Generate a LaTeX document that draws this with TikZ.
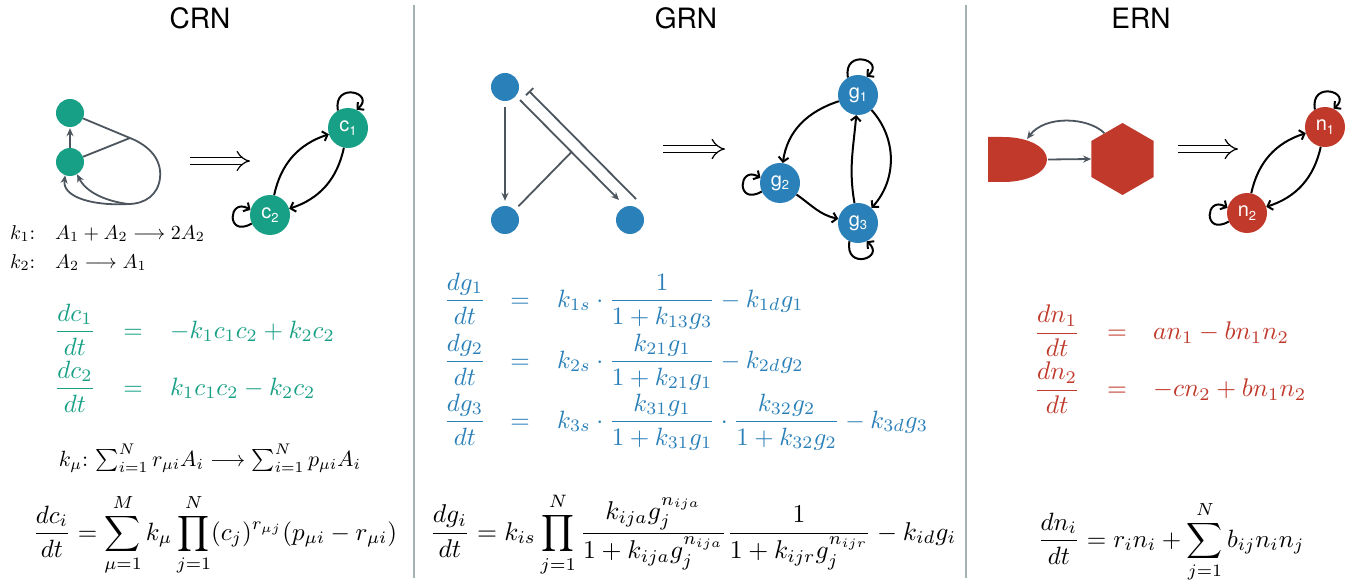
\documentclass[tikz,border=0pt]{standalone}
\usepackage{amsmath}
\usepackage{graphicx}
\usepackage{fontspec}
\newfontfamily\heros{TeX Gyre Heros}
\usetikzlibrary{arrows.meta,shapes.geometric,calc}
\definecolor{crn}{HTML}{17A085}
\definecolor{grn}{HTML}{2A80B9}
\definecolor{ern}{HTML}{C0392B}
\definecolor{edgec}{HTML}{4D565E}
\definecolor{divc}{HTML}{A3B1B1}
\newcommand{\lab}[2]{#1\raisebox{-0.35ex}{\fontsize{13}{13}\selectfont #2}}
\begin{document}
\begin{tikzpicture}[x=1pt,y=-1pt,
  small/.style={circle, fill=#1, minimum size=28pt, inner sep=0pt},
  big/.style={circle, fill=#1, minimum size=40pt, inner sep=0pt, text=white, font=\heros\fontsize{20}{20}\selectfont},
  gline/.style={draw=edgec, line width=1.8pt},
  garr/.style={gline, -{Stealth[length=8pt,width=7pt]}},
  gbar/.style={gline, -{Bar[width=10pt]}},
  barr/.style={draw=black, line width=2pt, -{Straight Barb[length=4.5pt,width=10pt]}},
  ttl/.style={font=\heros\fontsize{28}{28}\selectfont},
  eq/.style={inner sep=0pt, anchor=base},
  eqw/.style={inner sep=0pt, anchor=base west},
  dbl/.style={double, double distance=6pt, line width=1.2pt, -{Implies}},
]
\useasboundingbox (0,0) rectangle (1354,580);
\fill[white] (0,0) rectangle (1354,580);

% dividers
\draw[divc, line width=1.5pt] (414,5) -- (414,578);
\draw[divc, line width=1.5pt] (966,5) -- (966,578);

% titles
\node[ttl] (tcrn) at (200,18) {CRN};
\node[ttl] (tgrn) at (686,18) {GRN};
\node[ttl] (tern) at (1141,18) {ERN};

%%%%%%%%%%%% CRN graph
\node[small=crn] (A1) at (70,113) {};
\node[small=crn] (A2) at (70,162) {};
\draw[garr, shorten >=1pt] (A2) -- (A1);
\coordinate (J) at (130,138);
\coordinate (B) at (128,204);
\draw[gline] (A1) -- (J);
\draw[gline] (A2) -- (J);
\draw[gline] (J) .. controls (150,146) and (162,160) .. (160,178) .. controls (158,195) and (145,204) .. (B);
\draw[garr] (B) .. controls (95,206) and (62,198) .. (A2.250);
\draw[garr] (B) .. controls (105,201) and (86,192) .. (A2.300);

\coordinate (d1s) at (190,161);
\coordinate (d1e) at (250,161);
\draw[dbl] (d1s) -- (d1e);

\node[big=crn] (c1) at (348,128) {\lab{c}{1}};
\node[big=crn] (c2) at (270,215) {\lab{c}{2}};
\draw[barr] (c2) to[bend left=30] (c1);
\draw[barr] (c1) to[bend left=30] (c2);
\draw[barr] (c1.120) .. controls +(100:30pt) and +(40:26pt) .. (c1.65);
\draw[barr] (c2.205) .. controls +(210:30pt) and +(150:26pt) .. (c2.165);

\node[eqw] (k1) at (10,239) {\scalebox{2}{$k_1{:}$}};
\node[eqw] (r1) at (55,239) {\scalebox{2}{$A_1+A_2\longrightarrow 2A_2$}};
\node[eqw] (k2) at (10,268) {\scalebox{2}{$k_2{:}$}};
\node[eqw] (r2) at (55,268) {\scalebox{2}{$A_2\longrightarrow A_1$}};

\node[eq, text=crn] (cf1) at (75,338) {\scalebox{2.5}{$\displaystyle\frac{dc_1}{dt}$}};
\node[eq, text=crn] (ce1) at (133,338) {\scalebox{2.5}{$=$}};
\node[eqw, text=crn] (cr1) at (170,338) {\scalebox{2.5}{$-k_1c_1c_2+k_2c_2$}};
\node[eq, text=crn] (cf2) at (75,395) {\scalebox{2.5}{$\displaystyle\frac{dc_2}{dt}$}};
\node[eq, text=crn] (ce2) at (133,395) {\scalebox{2.5}{$=$}};
\node[eqw, text=crn] (cr2) at (170,395) {\scalebox{2.5}{$k_1c_1c_2-k_2c_2$}};

\node[eq] (kmu) at (210,466) {\scalebox{2.2}{$k_\mu{:}\,\sum_{i=1}^N r_{\mu i}A_i\longrightarrow\sum_{i=1}^N p_{\mu i}A_i$}};
\node[eq] (cgen) at (215,540) {\scalebox{2.5}{$\displaystyle\frac{dc_i}{dt}=\sum_{\mu=1}^{M}k_\mu\prod_{j=1}^{N}(c_j)^{r_{\mu j}}(p_{\mu i}-r_{\mu i})$}};

%%%%%%%%%%%% GRN graph
\node[small=grn] (G1) at (505,87) {};
\node[small=grn] (G2) at (505,220) {};
\node[small=grn] (G3) at (630,220) {};
\draw[garr, shorten <=6pt, shorten >=5pt] (G1) -- (G2);
\coordinate (a1) at (520,100);
\coordinate (a2) at (619,200);
\coordinate (b1) at (529,91);
\coordinate (b2) at (636,199);
\draw[garr] (a1) -- (a2);
\draw[gbar] (b2) -- (b1);
\coordinate (jg) at ($(a1)!0.52!(a2)$);
\draw[gline, shorten <=5pt] (G2) -- (jg);

\coordinate (d2s) at (663,149);
\coordinate (d2e) at (725,149);
\draw[dbl] (d2s) -- (d2e);

\node[big=grn] (g1) at (858,95) {\lab{g}{1}};
\node[big=grn] (g2) at (780,183) {\lab{g}{2}};
\node[big=grn] (g3) at (858,223) {\lab{g}{3}};
\draw[barr] (g1) to[out=198,in=82] (g2);
\draw[barr] (g2) to[out=-35,in=168] (g3);
\draw[barr] (g1) to[out=-48,in=48] (g3);
\draw[barr] (g3) to[out=100,in=-95] (g1);
\draw[barr] (g1.120) .. controls +(100:30pt) and +(40:26pt) .. (g1.65);
\draw[barr] (g3.245) .. controls +(260:30pt) and +(320:26pt) .. (g3.295);
\draw[barr] (g2.205) .. controls +(210:30pt) and +(150:26pt) .. (g2.165);

\node[eq, text=grn] (gf1) at (465,307) {\scalebox{2.5}{$\displaystyle\frac{dg_1}{dt}$}};
\node[eq, text=grn] (ge1) at (520,307) {\scalebox{2.5}{$=$}};
\node[eqw, text=grn] (gr1) at (557,307) {\scalebox{2.5}{$k_{1s}\cdot\dfrac{1}{1+k_{13}g_3}-k_{1d}g_1$}};
\node[eq, text=grn] (gf2) at (465,368) {\scalebox{2.5}{$\displaystyle\frac{dg_2}{dt}$}};
\node[eq, text=grn] (ge2) at (520,368) {\scalebox{2.5}{$=$}};
\node[eqw, text=grn] (gr2) at (557,368) {\scalebox{2.5}{$k_{2s}\cdot\dfrac{k_{21}g_1}{1+k_{21}g_1}-k_{2d}g_2$}};
\node[eq, text=grn] (gf3) at (465,428) {\scalebox{2.5}{$\displaystyle\frac{dg_3}{dt}$}};
\node[eq, text=grn] (ge3) at (520,428) {\scalebox{2.5}{$=$}};
\node[eqw, text=grn] (gr3) at (557,428) {\scalebox{2.5}{$k_{3s}\cdot\dfrac{k_{31}g_1}{1+k_{31}g_1}\cdot\dfrac{k_{32}g_2}{1+k_{32}g_2}-k_{3d}g_3$}};

\node[eq] (ggen) at (693,540) {\scalebox{2.57}{$\displaystyle\frac{dg_i}{dt}=k_{is}\prod_{j=1}^{N}\frac{k_{ija}g_j^{n_{ija}}}{1+k_{ija}g_j^{n_{ija}}}\frac{1}{1+k_{ijr}g_j^{n_{ijr}}}-k_{id}g_i$}};

%%%%%%%%%%%% ERN graph
\fill[ern] (988,137) -- (1003,137) .. controls (1030,137) and (1047,148) .. (1047,159.5) .. controls (1047,171) and (1030,182) .. (1003,182) -- (988,182) -- cycle;
\coordinate (bultip) at (1048,159.5);
\coordinate (bultop) at (1027,139);
\node[regular polygon, regular polygon sides=6, shape border rotate=30, minimum size=72pt, inner sep=0pt, fill=ern] (hex) at (1122.5,159) {};
\draw[garr] (bultip) -- (hex.west);
\draw[garr] (hex.125) .. controls (1088,117) and (1045,115) .. (bultop);

\coordinate (d3s) at (1178,149);
\coordinate (d3e) at (1238,149);
\draw[dbl] (d3s) -- (d3e);

\node[big=ern] (n1) at (1325,127) {\lab{n}{1}};
\node[big=ern] (n2) at (1247,213) {\lab{n}{2}};
\draw[barr] (n2) to[bend left=30] (n1);
\draw[barr] (n1) to[bend left=30] (n2);
\draw[barr] (n1.120) .. controls +(100:30pt) and +(40:26pt) .. (n1.65);
\draw[barr] (n2.205) .. controls +(210:30pt) and +(150:26pt) .. (n2.165);

\node[eq, text=ern] (nf1) at (1057,339.5) {\scalebox{2.55}{$\displaystyle\frac{dn_1}{dt}$}};
\node[eq, text=ern] (ne1) at (1117,339.5) {\scalebox{2.55}{$=$}};
\node[eqw, text=ern] (nr1) at (1153,339.5) {\scalebox{2.55}{$an_1-bn_1n_2$}};
\node[eq, text=ern] (nf2) at (1057,396.5) {\scalebox{2.55}{$\displaystyle\frac{dn_2}{dt}$}};
\node[eq, text=ern] (ne2) at (1117,396.5) {\scalebox{2.55}{$=$}};
\node[eqw, text=ern] (nr2) at (1153,396.5) {\scalebox{2.55}{$-cn_2+bn_1n_2$}};

\node[eq] (ngen) at (1171,547) {\scalebox{2.5}{$\displaystyle\frac{dn_i}{dt}=r_in_i+\sum_{j=1}^{N}b_{ij}n_in_j$}};
\end{tikzpicture}
\end{document}
